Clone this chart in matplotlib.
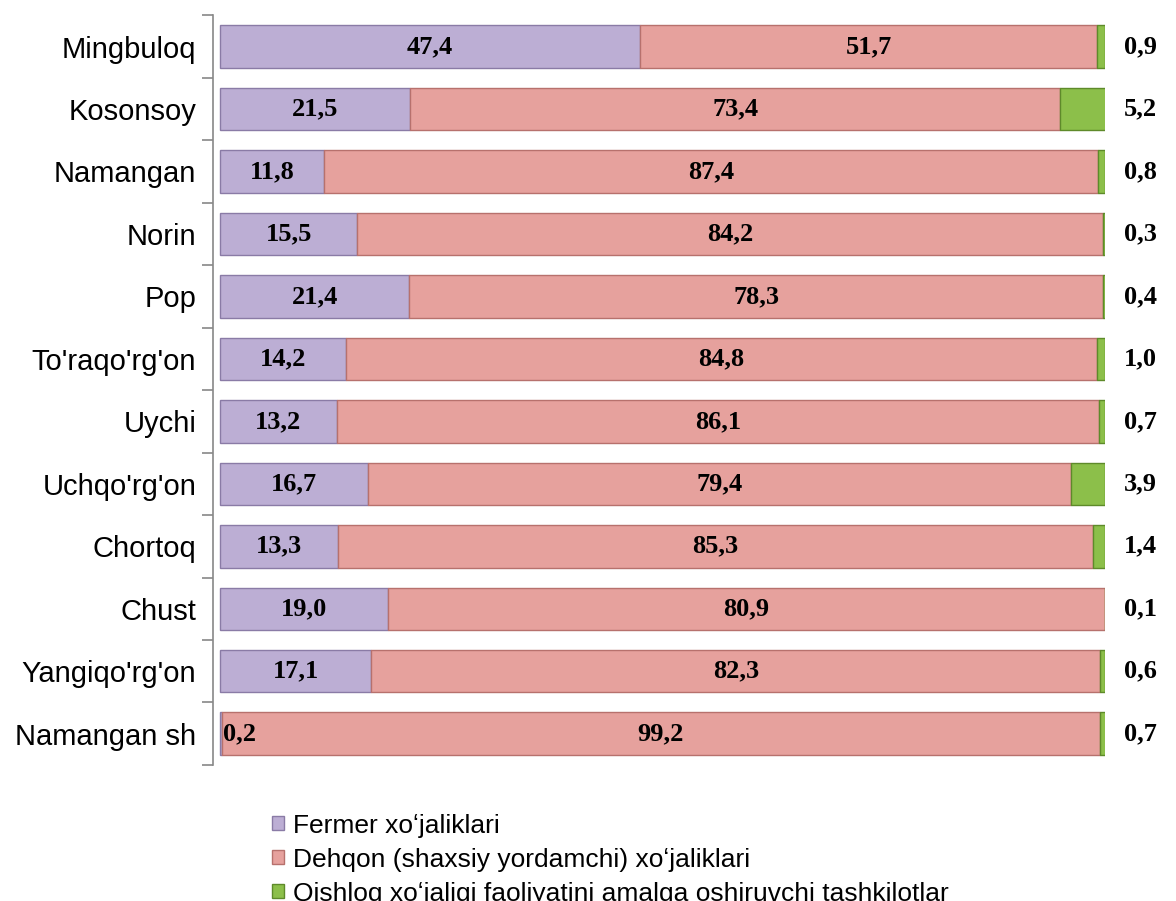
import matplotlib.pyplot as plt
import numpy as np

# districts, top to bottom
regions = ["Mingbuloq", "Kosonsoy", "Namangan", "Norin", "Pop", "To'raqo'rg'on",
           "Uychi", "Uchqo'rg'on", "Chortoq", "Chust", "Yangiqo'rg'on", "Namangan sh"]
fermer = [47.4, 21.5, 11.8, 15.5, 21.4, 14.2, 13.2, 16.7, 13.3, 19.0, 17.1, 0.2]
dehqon = [51.7, 73.4, 87.4, 84.2, 78.3, 84.8, 86.1, 79.4, 85.3, 80.9, 82.3, 99.2]
tashkilot = [0.9, 5.2, 0.8, 0.3, 0.4, 1.0, 0.7, 3.9, 1.4, 0.1, 0.6, 0.7]

series_names = ["Fermer xoʻjaliklari",
                "Dehqon (shaxsiy yordamchi) xoʻjaliklari",
                "Qishloq xoʻjaligi faoliyatini amalga oshiruvchi tashkilotlar"]

plt.rcParams['font.family'] = ['Liberation Sans', 'DejaVu Sans']

fig = plt.figure(figsize=(11.76, 9.01), dpi=100)
ax = fig.add_axes([0.181, 0.151, 0.759, 0.832])

y = np.arange(len(regions))
f = np.array(fermer)
d = np.array(dehqon)
t = np.array(tashkilot)

h = 0.68
b1 = ax.barh(y, f, height=h, color='#BCAED4', edgecolor='#8A7BA6', linewidth=1, label=series_names[0])
b2 = ax.barh(y, d, left=f, height=h, color='#E6A19D', edgecolor='#B7716D', linewidth=1, label=series_names[1])
b3 = ax.barh(y, t, left=f + d, height=h, color='#8CBF4A', edgecolor='#5E8A2A', linewidth=1, label=series_names[2])

lab = dict(fontfamily=['Liberation Serif', 'DejaVu Serif'], fontweight='bold', fontsize=19, va='center')
for i in range(len(regions)):
    txt1 = f"{fermer[i]:.1f}".replace('.', ',')
    if fermer[i] < 3:
        ax.text(0.3, i, txt1, ha='left', **lab)
    else:
        ax.text(f[i] / 2, i, txt1, ha='center', **lab)
    ax.text(f[i] + d[i] / 2, i, f"{dehqon[i]:.1f}".replace('.', ','), ha='center', **lab)
    ax.text(104, i, f"{tashkilot[i]:.1f}".replace('.', ','), ha='center', clip_on=False, **lab)

ax.set_xlim(-0.8, 100)
ax.set_ylim(len(regions) - 0.5, -0.5)
ax.set_yticks(y)
ax.set_yticklabels(regions, fontsize=21)
ax.set_yticks(np.arange(-0.5, len(regions)), minor=True)
ax.tick_params(axis='y', which='major', length=0, pad=12)
ax.tick_params(axis='y', which='minor', length=8, color='#888888', width=1.2)
ax.set_xticks([])
for s in ['top', 'right', 'bottom']:
    ax.spines[s].set_visible(False)
ax.spines['left'].set_color('#888888')
ax.spines['left'].set_linewidth(1.2)

fig.legend(handles=[b1, b2, b3], loc='upper left', bbox_to_anchor=(0.2316, 0.097), frameon=False,
           fontsize=19, handlelength=0.45, handleheight=0.45, handletextpad=0.35, labelspacing=0.38,
           borderaxespad=0, borderpad=0)

fig.savefig('out.png', dpi=100)
